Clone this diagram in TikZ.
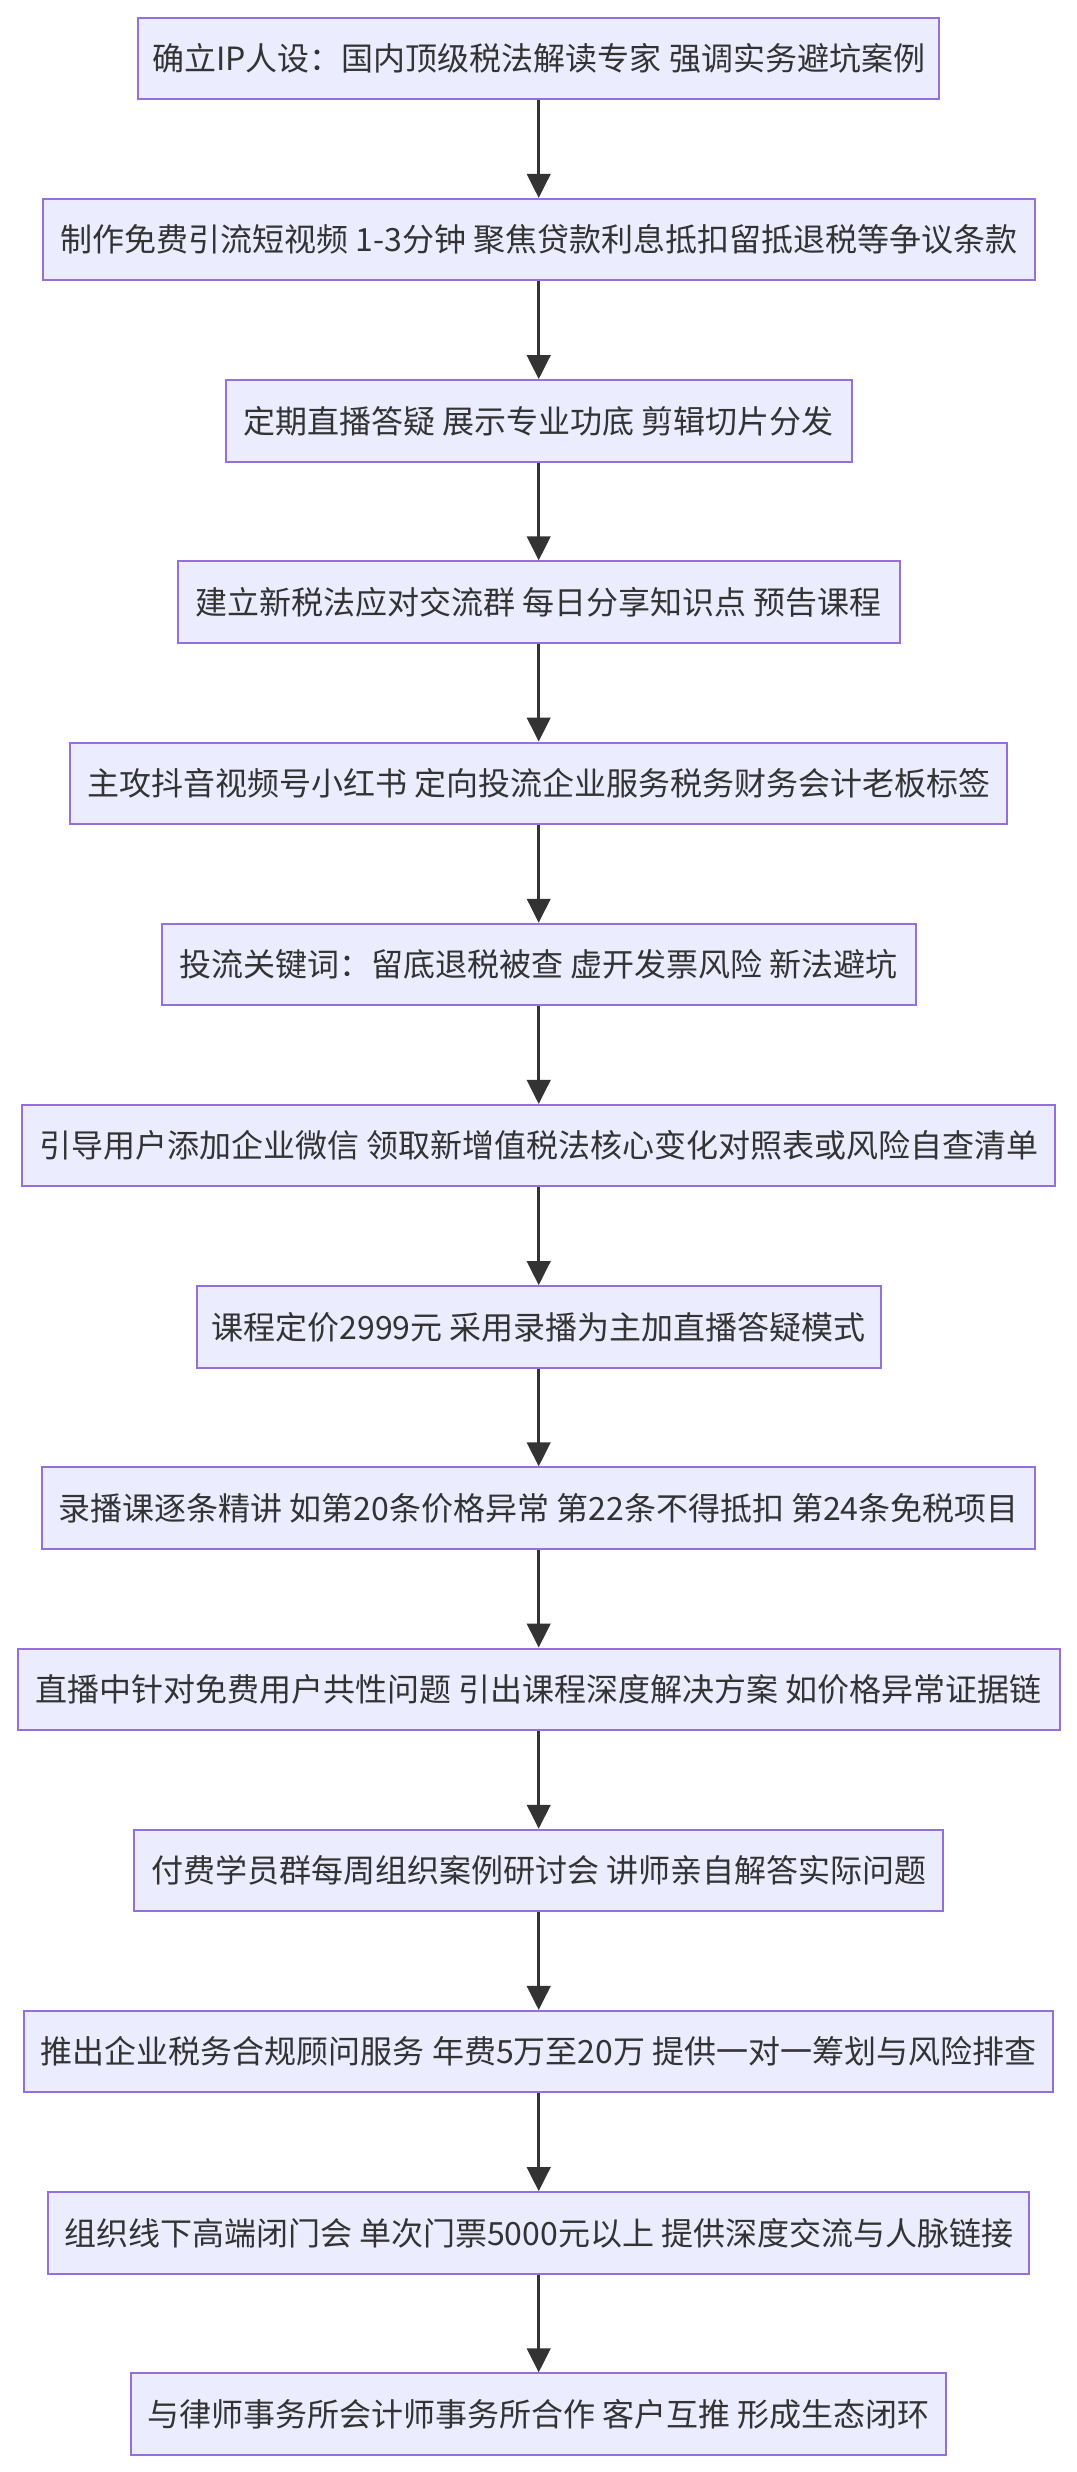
\documentclass[tikz,border=0pt]{standalone}
\usepackage{fontspec}
\newfontfamily\cjk{Noto Sans CJK SC}
\usetikzlibrary{arrows.meta}
\definecolor{boxfill}{HTML}{ECECFF}
\definecolor{boxline}{HTML}{9370DB}
\definecolor{txt}{HTML}{333333}
\tikzset{
  flowbox/.style={draw=boxline, fill=boxfill, line width=1pt, minimum height=40.75pt,
    inner sep=0pt, text=txt, font=\cjk\fontsize{16pt}{19pt}\selectfont, anchor=center},
  flowarrow/.style={draw=txt, line width=1.5pt, -{Triangle[length=12pt,width=11.7pt]}}
}
\begin{document}
\begin{tikzpicture}[x=0.5pt,y=-0.5pt]
\useasboundingbox (0,0) rectangle (1076,2472);
\node[flowbox, minimum width=400.7pt] (n1)  at (538.7,58.5)   {确立IP人设：国内顶级税法解读专家 强调实务避坑案例};
\node[flowbox, minimum width=495.8pt] (n2)  at (538.7,239.7)  {制作免费引流短视频 1-3分钟 聚焦贷款利息抵扣留抵退税等争议条款};
\node[flowbox, minimum width=313.2pt] (n3)  at (538.7,420.9)  {定期直播答疑 展示专业功底 剪辑切片分发};
\node[flowbox, minimum width=361.2pt] (n4)  at (538.7,602.1)  {建立新税法应对交流群 每日分享知识点 预告课程};
\node[flowbox, minimum width=468.7pt] (n5)  at (538.7,783.3)  {主攻抖音视频号小红书 定向投流企业服务税务财务会计老板标签};
\node[flowbox, minimum width=377pt]   (n6)  at (538.7,964.5)  {投流关键词：留底退税被查 虚开发票风险 新法避坑};
\node[flowbox, minimum width=516.4pt] (n7)  at (538.7,1145.7) {引导用户添加企业微信 领取新增值税法核心变化对照表或风险自查清单};
\node[flowbox, minimum width=342pt]   (n8)  at (538.7,1326.9) {课程定价2999元 采用录播为主加直播答疑模式};
\node[flowbox, minimum width=496.4pt] (n9)  at (538.7,1508.1) {录播课逐条精讲 如第20条价格异常 第22条不得抵扣 第24条免税项目};
\node[flowbox, minimum width=521pt]   (n10) at (538.7,1689.3) {直播中针对免费用户共性问题 引出课程深度解决方案 如价格异常证据链};
\node[flowbox, minimum width=404.4pt] (n11) at (538.7,1870.5) {付费学员群每周组织案例研讨会 讲师亲自解答实际问题};
\node[flowbox, minimum width=514.4pt] (n12) at (538.7,2051.7) {推出企业税务合规顾问服务 年费5万至20万 提供一对一筹划与风险排查};
\node[flowbox, minimum width=490.7pt] (n13) at (538.7,2232.9) {组织线下高端闭门会 单次门票5000元以上 提供深度交流与人脉链接};
\node[flowbox, minimum width=407.7pt] (n14) at (538.7,2414.1) {与律师事务所会计师事务所合作 客户互推 形成生态闭环};
\foreach \a/\b in {n1/n2,n2/n3,n3/n4,n4/n5,n5/n6,n6/n7,n7/n8,n8/n9,n9/n10,n10/n11,n11/n12,n12/n13,n13/n14}
  \draw[flowarrow] (\a.south) -- (\b.north);
\end{tikzpicture}
\end{document}
